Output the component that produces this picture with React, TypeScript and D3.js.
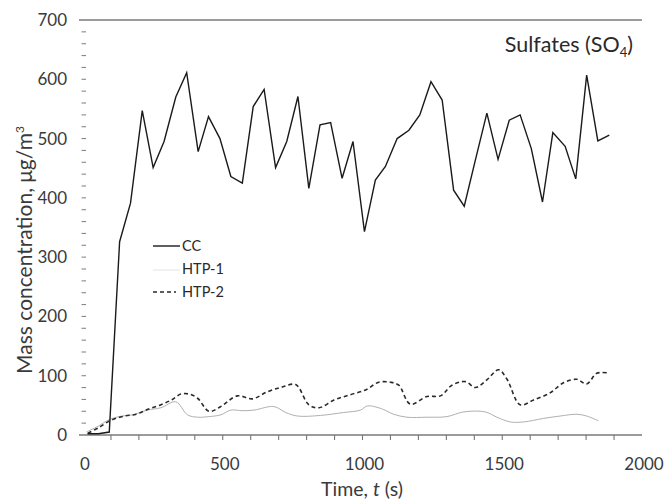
import React from "react";
import * as d3 from "d3";

const ccTime = [16, 55, 94, 131, 170, 212, 251, 290, 332, 371, 412, 449, 490, 529, 570, 609, 648, 689, 729, 769, 808, 848, 886, 927, 966, 1007, 1046, 1082, 1124, 1166, 1205, 1245, 1285, 1326, 1364, 1404, 1445, 1485, 1525, 1564, 1604, 1644, 1681, 1725, 1763, 1802, 1842, 1883];
const ccValues = [2, 2, 5, 326, 391, 547, 451, 495, 570, 611, 478, 537, 500, 436, 425, 554, 583, 451, 495, 571, 416, 523, 527, 433, 495, 343, 430, 453, 500, 514, 540, 596, 565, 413, 386, 464, 543, 465, 531, 540, 483, 393, 510, 487, 432, 607, 496, 506];

const htp1Time = [12, 55, 94, 140, 177, 230, 279, 332, 374, 410, 450, 493, 529, 570, 612, 683, 725, 767, 850, 933, 993, 1017, 1064, 1112, 1159, 1231, 1302, 1362, 1439, 1481, 1529, 1576, 1648, 1707, 1767, 1802, 1844];
const htp1Values = [5, 15, 26, 32, 34, 42, 46, 56, 34, 30, 31, 34, 42, 41, 42, 48, 38, 32, 33, 38, 42, 49, 45, 35, 30, 30, 31, 39, 39, 30, 22, 22, 28, 32, 35, 32, 24];

const htp2Time = [17, 55, 100, 148, 190, 235, 279, 320, 350, 380, 410, 451, 493, 552, 606, 660, 713, 761, 808, 845, 898, 950, 1011, 1058, 1100, 1130, 1171, 1231, 1279, 1320, 1368, 1404, 1445, 1487, 1517, 1564, 1612, 1671, 1719, 1767, 1802, 1838, 1874];
const htp2Values = [3, 12, 25, 32, 35, 44, 51, 60, 69, 69, 62, 40, 48, 66, 61, 73, 81, 85, 51, 46, 59, 67, 76, 89, 89, 84, 52, 65, 66, 84, 90, 80, 93, 110, 94, 51, 59, 71, 88, 94, 86, 104, 105];

const yTicks = [0, 100, 200, 300, 400, 500, 600, 700];
const xTicks = [0, 500, 1000, 1500, 2000];
const legendLabels = ["CC", "HTP-1", "HTP-2"];

const FONT = "Lato, 'Open Sans', sans-serif";

export default function App() {
  const W = 666, H = 503;
  const x = d3.scaleLinear().domain([0, 2000]).range([83, 642]);
  const y = d3.scaleLinear().domain([0, 700]).range([435, 20]);

  const toPts = (t: number[], v: number[]) => t.map((ti, i) => [ti, v[i]] as [number, number]);
  const linear = d3.line<[number, number]>().x(d => x(d[0])).y(d => y(d[1]));
  const smooth = d3.line<[number, number]>().x(d => x(d[0])).y(d => y(d[1])).curve(d3.curveCatmullRom.alpha(0.5));

  const minorY = d3.range(20, 700, 20);
  const minorX = d3.range(100, 2000, 100);

  return (
    <svg width={W} height={H} style={{ position: "absolute", left: 0, top: 0, background: "#fff" }}>
      <rect x={0} y={0} width={W} height={H} fill="#fff" />
      <line x1={79} x2={642} y1={y(700)} y2={y(700)} stroke="#7a7a7a" strokeWidth={1.3} />
      <line x1={79} x2={642} y1={y(0)} y2={y(0)} stroke="#7a7a7a" strokeWidth={1.3} />
      {minorX.map(t => (
        <line key={t} x1={x(t)} x2={x(t)} y1={y(0)} y2={y(0) + 5} stroke="#777" strokeWidth={1.1} />
      ))}
      {minorY.map(v => (
        <line key={v} x1={81.5} x2={86} y1={y(v)} y2={y(v)} stroke="#888" strokeWidth={1.1} />
      ))}
      {yTicks.map(v => (
        <text key={v} x={67} y={y(v) + 6} textAnchor="end" fontFamily={FONT} fontSize={17} fill="#3a3a3a">{v}</text>
      ))}
      {xTicks.map(t => (
        <text key={t} x={x(t) + 2} y={470} textAnchor="middle" fontFamily={FONT} fontSize={17} fill="#3a3a3a">{t}</text>
      ))}
      <text x={362} y={496} textAnchor="middle" fontFamily={FONT} fontSize={19.5} fill="#3a3a3a">
        Time, <tspan fontStyle="italic">t</tspan> (s)
      </text>
      <text transform="translate(32,250) rotate(-90)" textAnchor="middle" fontFamily={FONT} fontSize={21} fill="#3a3a3a">
        Mass concentration, μg/m<tspan dy={-8} fontSize={12}>3</tspan>
      </text>
      <text x={633} y={52} textAnchor="end" fontFamily={FONT} fontSize={21.5} fill="#2a2a2a">
        Sulfates (SO<tspan dy={5} fontSize={13}>4</tspan><tspan dy={-5}>)</tspan>
      </text>
      <path d={smooth(toPts(htp1Time, htp1Values)) || ""} fill="none" stroke="#b0b0b0" strokeWidth={1} />
      <path d={smooth(toPts(htp2Time, htp2Values)) || ""} fill="none" stroke="#2a2a2a" strokeWidth={1.6} strokeDasharray="4 3" />
      <path d={linear(toPts(ccTime, ccValues)) || ""} fill="none" stroke="#1a1a1a" strokeWidth={1.4} strokeLinejoin="miter" />
      <line x1={153} x2={180} y1={246} y2={246} stroke="#1a1a1a" strokeWidth={1.4} />
      <line x1={153} x2={180} y1={270} y2={270} stroke="#e4e4e4" strokeWidth={1} />
      <line x1={153} x2={176} y1={292} y2={292} stroke="#2a2a2a" strokeWidth={1.6} strokeDasharray="4 3" />
      {legendLabels.map((l, i) => (
        <text key={l} x={182} y={251 + i * 23} fontFamily={FONT} fontSize={14.5} fill="#2a2a2a">{l}</text>
      ))}
    </svg>
  );
}
